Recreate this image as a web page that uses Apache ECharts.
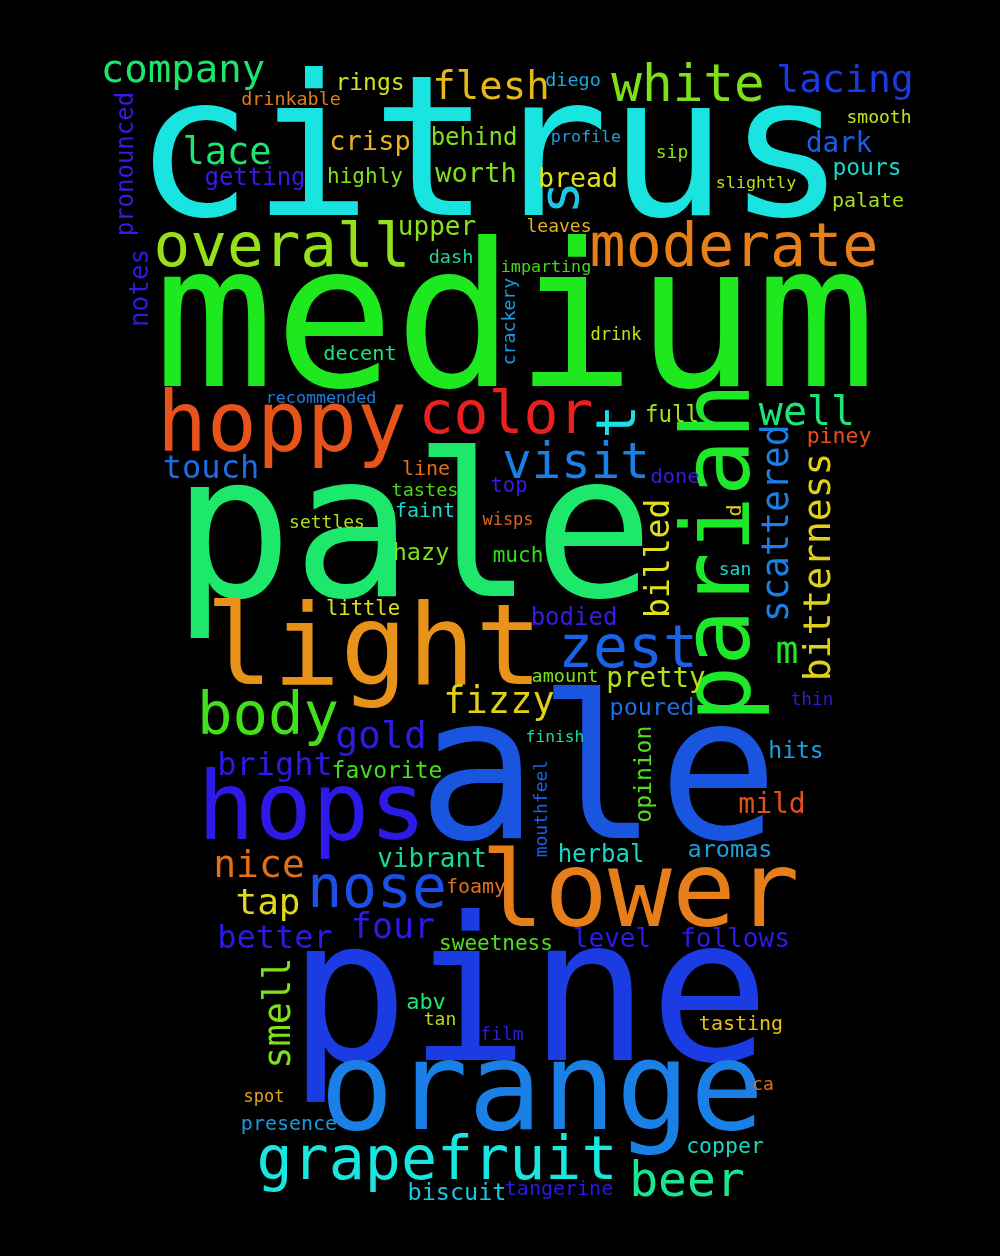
<!DOCTYPE html>
<html>
<head>
<meta charset="utf-8">
<script src="https://cdn.jsdelivr.net/npm/echarts@6/dist/echarts.min.js"></script>
<style>
html,body{margin:0;padding:0;background:#000;}
#chart{width:1000px;height:1256px;}
</style>
</head>
<body>
<div id="chart"></div>
<script>
// Word cloud terms
const words = ["citrus","medium","pale","ale","pine","orange","lower","light","hops","pariah",
"hoppy","color","moderate","overall","white","lacing","company","flesh","lace","crisp",
"rings","drinkable","pronounced","notes","getting","highly","behind","worth","upper","dash",
"decent","recommended","crackery","imparting","leaves","diego","profile","s","bread","sip",
"slightly","smooth","dark","pours","palate","drink","visit","touch","t","full",
"well","piney","scattered","bitterness","billed","d","done","san","m","thin",
"zest","bodied","amount","pretty","poured","top","wisps","much","line","tastes",
"faint","settles","hazy","little","body","fizzy","gold","bright","favorite","finish",
"mouthfeel","opinion","hits","mild","aromas","herbal","nice","vibrant","nose","foamy",
"tap","four","better","sweetness","level","follows","smell","abv","tan","film",
"tasting","ca","spot","presence","copper","grapefruit","beer","biscuit","tangerine"];

// Word weights (font size in px)
const weights = [197,200,200,200,200,123,106,112,95,94,
83,58,60,61,51,38,39,39,37,27,
23,18.4,24,26,24,21,24,27,26,18.5,
20.3,16.7,18.2,16.7,18,18.5,16.7,55,26.5,18,
16.7,18,27.5,23,20,17,49,32,56,22.5,
40,21.5,36.5,38,33,20,20.3,18,38,17.7,
58,24,18.5,27.5,23.5,20.5,17,21,20,18.5,
20,18,23.5,20.5,59,37,38,32,23,16.3,
18,23,23,28,23.5,24,38,26,58,20,
36,35,32,21,26,26,37,22,18,18,
20,18,17,20,21.5,60,48,23.5,20];

// Layout: centre of each word on the canvas (x across, y down)
const posX = [490,515,413,598,529,542,640,374,312,725,
282,506,734,282,688,845,183,491,227,370,
370,291,127,141,255,365,474,476,437,451,
360,321,510,546,559,573,586,564,578,672,
756,879,839,867,868,616,576,211,620,672,
807,839,779,820,660,736,675,735,787,812,
628,574,565,656,652,509,508,518,426,425,
425,327,421,363,268,499,381,275,387,555,
542,645,796,772,730,601,259,432,377,476,
268,393,275,496,612,735,280,426,440,502,
741,763,264,289,725,437,687,457,559];
const posY = [148,318,528,770,992,1087,890,646,807,560,
423,413,246,245,84,79,69,86,151,141,
82,99,166,290,177,176,137,173,226,257,
353,397,323,266,226,80,136,202,178,152,
182,117,143,167,200,334,461,467,426,414,
411,436,526,570,561,512,476,569,650,699,
647,617,676,678,707,485,519,555,468,490,
510,522,552,608,714,700,735,764,770,736,
810,776,750,803,849,854,864,858,887,886,
902,926,937,943,938,938,1016,1002,1019,1034,
1023,1084,1096,1123,1146,1159,1180,1192,1188];

// Rotation of each word (degrees, counter-clockwise)
const rotations = [0,0,0,0,0,0,0,0,0,90,
0,0,0,0,0,0,0,0,0,0,
0,0,90,90,0,0,0,0,0,0,
0,0,90,0,0,0,0,90,0,0,
0,0,0,0,0,0,0,0,90,0,
0,0,90,90,90,90,0,0,0,0,
0,0,0,0,0,0,0,0,0,0,
0,0,0,0,0,0,0,0,0,0,
90,90,0,0,0,0,0,0,0,0,
0,0,0,0,0,0,90,0,0,0,
0,0,0,0,0,0,0,0,0];

const colors = ["#1ae4e0","#1ee81e","#1de86c","#1a55e0","#1b3be3","#1a80e6","#e67e1a","#e8921a","#2e1ae6","#1ee82a",
"#e8531a","#e82020","#e67e1a","#96e01a","#7ce01a","#1a3ae6","#1ae66e","#e6b81a","#1ae670","#e8b01a",
"#d4e01a","#e07e1a","#3a1ae6","#2e1ae6","#3a1ae6","#82e01a","#82e01a","#82e01a","#8ce01a","#1ad890",
"#1ae67a","#1a7ee0","#1a9ae0","#40d81a","#e8b01a","#1aa8e0","#1aa0e0","#1ac8e6","#e0e01a","#8ce01a",
"#b8e01a","#c8e01a","#1a5ee6","#1ad8d0","#a8e01a","#c8e01a","#1a80e6","#1a6ee6","#1ae0e6","#a8e01a",
"#1ae678","#e8501a","#1a80e6","#e0d01a","#e0e01a","#e0d01a","#3a1ae6","#1ad8d0","#1ee82a","#2e1ae6",
"#1a62e6","#3a1ae6","#7ce01a","#b0e01a","#1a70e6","#3a1ae6","#e0601a","#2ee01a","#e0701a","#50d81a",
"#1ad8d0","#b0e01a","#7ce01a","#e0e01a","#40e01a","#e0d01a","#2e1ae6","#2e1ae6","#40e01a","#1ad8a0",
"#1a60e6","#50e01a","#1aa0e0","#e0501a","#1aa0e0","#1ad8c8","#e0701a","#1ad890","#1a50e6","#e0701a",
"#e0d81a","#2e1ae6","#2e1ae6","#50e01a","#2e1ae6","#2e1ae6","#80e01a","#1ae670","#b0e01a","#2e1ae6",
"#e8c01a","#e0701a","#e8a01a","#1a9ae0","#1ad8c0","#1ae6e0","#1ae690","#1ac8e0","#2e1ae6"];

// canvas 'middle' baseline sits a little higher than the em-box centre used above
const midShift = 0.08;

const data = words.map((w, i) => {
  const s = weights[i] * midShift;
  const off = rotations[i] === 90 ? [s, 0] : [0, s];
  return {
    name: w,
    value: [posX[i], posY[i]],
    label: {
      fontSize: weights[i],
      color: colors[i],
      rotate: rotations[i],
      offset: off
    }
  };
});

const chart = echarts.init(document.getElementById('chart'), null, {renderer: 'canvas'});
chart.setOption({
  backgroundColor: '#000000',
  animation: false,
  grid: {left: 0, right: 0, top: 0, bottom: 0},
  xAxis: {type: 'value', min: 0, max: 1000, show: false},
  yAxis: {type: 'value', min: 0, max: 1256, inverse: true, show: false},
  series: [{
    type: 'scatter',
    symbolSize: 0,
    itemStyle: {opacity: 1},
    data: data,
    label: {
      show: true,
      position: 'inside',
      formatter: '{b}',
      fontFamily: 'DejaVu Sans Mono',
      align: 'center',
      verticalAlign: 'middle',
      textBorderWidth: 0,
      opacity: 1
    },
    emphasis: {disabled: true}
  }]
});
</script>
</body>
</html>
